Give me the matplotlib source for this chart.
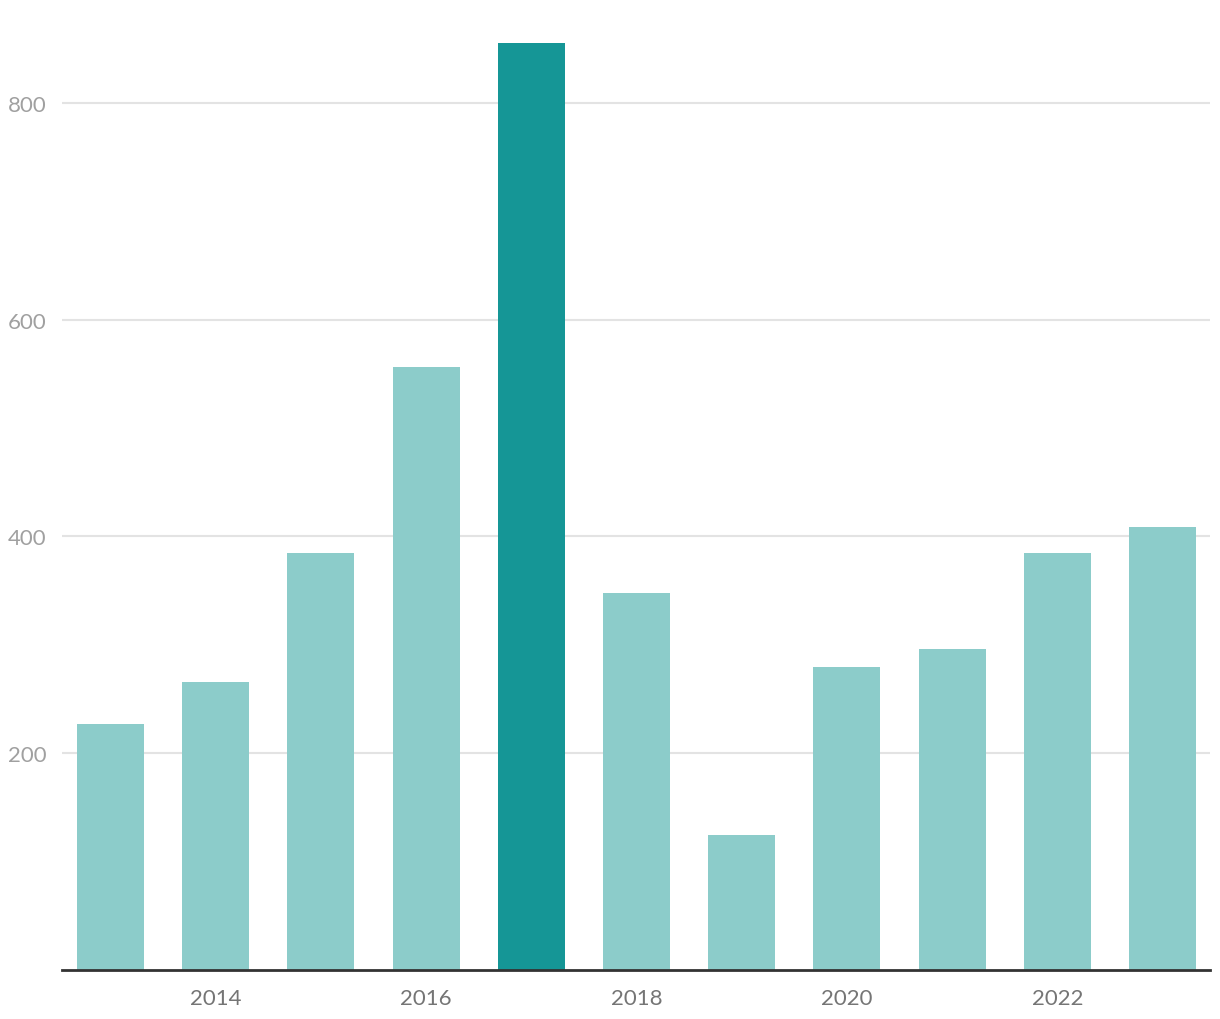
import matplotlib
matplotlib.use("Agg")
from matplotlib import pyplot as plt

years = [2013, 2014, 2015, 2016, 2017, 2018, 2019, 2020, 2021, 2022, 2023]
values = [227, 266, 385, 556, 855, 348, 125, 280, 296, 385, 409]
highlight_year = 2017
x_ticks = [2014, 2016, 2018, 2020, 2022]
y_ticks = [200, 400, 600, 800]

plt.rcParams["font.family"] = ["Lato", "DejaVu Sans"]


def main():
    fig = plt.figure(figsize=(12.2, 10.2), dpi=100)
    ax = fig.add_axes([62 / 1220, 49 / 1020, 1148 / 1220, (971 - 28) / 1020])

    colors = ["#159696" if y == highlight_year else "#8CCCCA" for y in years]
    ax.bar(years, values, width=0.638, color=colors, zorder=2)

    ax.set_xlim(2012.539, 2023.452)
    ax.set_ylim(0, 870)
    ax.set_xticks(x_ticks)
    ax.set_yticks(y_ticks)
    ax.grid(axis="y", color="#e3e3e3", linewidth=1.5, zorder=0)

    for side in ("top", "right", "left"):
        ax.spines[side].set_visible(False)
    ax.spines["bottom"].set_color("#333333")
    ax.spines["bottom"].set_linewidth(2)
    ax.spines["bottom"].set_zorder(3)

    ax.tick_params(axis="x", length=0, pad=13, labelsize=16, labelcolor="#757575")
    ax.tick_params(axis="y", length=0, pad=11, labelsize=16, labelcolor="#a0a0a0")

    fig.savefig("out.png", dpi=100)


if __name__ == "__main__":
    main()
